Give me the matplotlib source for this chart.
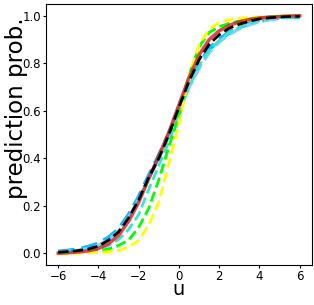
import numpy as np
import matplotlib
matplotlib.use("Agg")
import matplotlib.pyplot as plt

# ─── Data ───────────────────────────────────────────────
u = np.arange(-6, 6.01, 0.5)

p_red = [0.0, 0.002, 0.005, 0.010, 0.020, 0.040, 0.075, 0.135, 0.215, 0.315, 0.41, 0.51,
         0.625, 0.74, 0.835, 0.90, 0.937, 0.96, 0.975, 0.985, 0.991, 0.995, 0.997, 0.999, 1.0]
p_black = [0.004, 0.007, 0.011, 0.018, 0.030, 0.055, 0.09, 0.15, 0.225, 0.32, 0.40, 0.50,
           0.615, 0.725, 0.815, 0.88, 0.92, 0.948, 0.965, 0.978, 0.987, 0.992, 0.995, 0.997, 0.998]
p_deepblue = [0.006, 0.010, 0.016, 0.026, 0.040, 0.065, 0.10, 0.16, 0.235, 0.325, 0.41, 0.50,
              0.61, 0.71, 0.795, 0.86, 0.90, 0.93, 0.953, 0.968, 0.979, 0.987, 0.992, 0.995, 0.997]
p_lightblue = [0.004, 0.007, 0.012, 0.020, 0.033, 0.057, 0.092, 0.15, 0.225, 0.315, 0.40, 0.495,
               0.60, 0.70, 0.78, 0.845, 0.89, 0.922, 0.946, 0.963, 0.976, 0.985, 0.991, 0.995, 0.997]
p_turq = [0.001, 0.002, 0.005, 0.009, 0.017, 0.032, 0.058, 0.10, 0.163, 0.27, 0.37, 0.47,
          0.59, 0.70, 0.79, 0.855, 0.897, 0.93, 0.952, 0.968, 0.98, 0.988, 0.993, 0.996, 0.998]
p_green = [0.0, 0.001, 0.002, 0.004, 0.009, 0.018, 0.033, 0.055, 0.11, 0.19, 0.31, 0.45,
           0.58, 0.75, 0.87, 0.93, 0.955, 0.968, 0.978, 0.986, 0.991, 0.995, 0.997, 0.999, 1.0]
p_yellow = [0.0, 0.0, 0.001, 0.002, 0.003, 0.007, 0.012, 0.027, 0.054, 0.12, 0.215, 0.38,
            0.545, 0.75, 0.88, 0.945, 0.973, 0.985, 0.99, 0.994, 0.996, 0.998, 0.999, 1.0, 1.0]

fig = plt.figure(figsize=(3.14, 3.05), dpi=100)
ax = fig.add_axes([0.147, 0.131, 0.846, 0.856])

ax.plot(u, p_deepblue, '--', color='deepskyblue', lw=3.2)
ax.plot(u, p_lightblue, '--', color='lightskyblue', lw=2.5)
ax.plot(u, p_turq, '--', color='turquoise', lw=2)
ax.plot(u, p_green, '--', color='lime', lw=2)
ax.plot(u, p_yellow, '--', color='yellow', lw=2)
ax.plot(u, p_red, '-', color='tab:red', lw=2.5, alpha=0.85)
ax.plot(u, p_black, '--', color='black', lw=2)

ax.set_xticks([-6, -4, -2, 0, 2, 4, 6])
ax.set_yticks([0.0, 0.2, 0.4, 0.6, 0.8, 1.0])
ax.tick_params(labelsize=8.5, length=2.5, pad=1.2)
ax.set_xlabel('u', fontsize=14, labelpad=-2)
ax.set_ylabel('prediction prob.', fontsize=16.5, rotation_mode='default', va='center', ha='center')
ax.yaxis.set_label_coords(-0.112, 0.60)

plt.savefig('out.png', dpi=100)
